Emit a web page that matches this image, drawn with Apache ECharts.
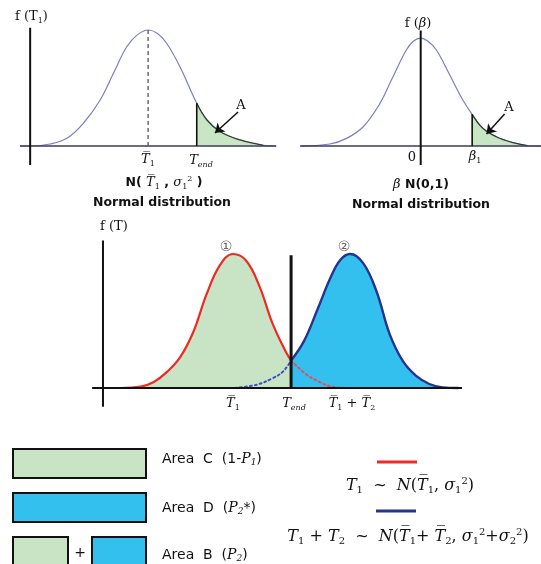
<!DOCTYPE html>
<html><head><meta charset="utf-8">
<script src="https://cdn.jsdelivr.net/npm/echarts@6/dist/echarts.min.js"></script>
<style>html,body{margin:0;padding:0;background:#fff}#c{width:541px;height:564px}</style>
</head><body><div id="c"></div>
<script>
// ---- Panel 1: f(T1), x in sigma units from the mean, y relative to peak ----
const curve1X = [-3.66,-3.37,-2.8,-2.32,-1.85,-1.37,-0.99,-0.61,-0.3,0,0.27,0.53,0.91,1.39,1.68,2.06,2.63,3.29,3.66];
const curve1Y = [0,0,0.017,0.066,0.196,0.397,0.627,0.856,0.96,1.0,0.97,0.886,0.684,0.368,0.224,0.123,0.052,0.006,0];
const tEnd1 = 1.39;
const tailEnd1 = 3.29;
const arrow1 = [[2.57,0.293],[1.91,0.112]];
const axis1X = -3.37;

// ---- Panel 2: f(beta), standard normal ----
const curve2X = [-3.61,-2.72,-2.22,-1.72,-1.22,-0.83,-0.43,-0.22,0,0.22,0.47,0.87,1.26,1.54,1.86,2.26,2.76,3.2,3.58];
const curve2Y = [0,0.019,0.071,0.179,0.395,0.642,0.889,0.97,1.0,0.97,0.889,0.657,0.426,0.294,0.164,0.086,0.031,0.003,0];
const beta1 = 1.54;
const tailEnd2 = 3.2;
const arrow2 = [[2.51,0.296],[1.97,0.111]];

// ---- Panel 3: f(T), curve 1 (T1) and curve 2 (T1+T2) ----
const redX  = [-3.4,-2.8,-2.4,-2.0,-1.6,-1.2,-0.8,-0.4,0,0.4,0.8,1.2,1.6,1.76];
const redY  = [0,0.01,0.045,0.12,0.23,0.42,0.70,0.915,1.0,0.95,0.76,0.48,0.27,0.205];
const redTailX = [1.76,2.18,2.58,3.09,3.55];
const redTailY = [0.205,0.11,0.05,0.006,0];
const blueX = [1.76,2.15,2.55,2.95,3.25,3.55,3.95,4.35,4.75,5.15,5.55,5.95,6.35,6.83];
const blueY = [0.205,0.35,0.58,0.82,0.955,1.0,0.93,0.72,0.40,0.20,0.09,0.03,0.005,0];
const blueTailX = [0.06,0.72,1.22,1.52,1.76];
const blueTailY = [0,0.025,0.075,0.124,0.205];
const tEnd3 = 1.76;
const axis3X = -3.94;

const zip = (xs, ys) => xs.map((x, i) => [x, ys[i]]);
const c1 = zip(curve1X, curve1Y);
const c2 = zip(curve2X, curve2Y);
const tail1 = c1.filter(p => p[0] >= tEnd1 && p[0] <= tailEnd1);
const tail2 = c2.filter(p => p[0] >= beta1 && p[0] <= tailEnd2);

const SERIF = "'DejaVu Serif','Liberation Serif',serif";
const SANS = "'DejaVu Sans','Noto Sans',sans-serif";
const rich = {
  it:  {fontFamily: SERIF, fontStyle: 'italic', fontSize: 13, fill: '#111'},
  rm:  {fontFamily: SERIF, fontSize: 13, fill: '#111'},
  sub: {fontFamily: SERIF, fontStyle: 'italic', fontSize: 8, padding: [8,0,0,0], fill: '#111'},
  subr:{fontFamily: SERIF, fontSize: 8, padding: [8,0,0,0], fill: '#111'},
  sup: {fontFamily: SERIF, fontSize: 8, padding: [0,0,8,0], fill: '#111'},
  b:   {fontFamily: SANS, fontWeight: 'bold', fontSize: 12.5, fill: '#111'},
  s:   {fontFamily: SANS, fontSize: 14, fill: '#111'},
  it14:{fontFamily: SERIF, fontStyle: 'italic', fontSize: 14, fill: '#111'},
  sub14:{fontFamily: SERIF, fontStyle: 'italic', fontSize: 9, padding: [8,0,0,0], fill: '#111'},
  it16:{fontFamily: SERIF, fontStyle: 'italic', fontSize: 16, fill: '#111'},
  rm16:{fontFamily: SERIF, fontSize: 16, fill: '#111'},
  sub16:{fontFamily: SERIF, fontSize: 10, padding: [9,0,0,0], fill: '#111'},
  sup16:{fontFamily: SERIF, fontSize: 10, padding: [0,0,10,0], fill: '#111'},
  circ:{fontFamily: "'DejaVu Sans','Noto Sans CJK SC'", fontSize: 14, fill: '#666'}
};
function txt(x, y, text, align) {
  return {type: 'text', x: x, y: y, silent: true,
    style: {text: text, rich: rich, align: align || 'center', verticalAlign: 'middle',
            textAlign: align || 'center', textVerticalAlign: 'middle'}};
}
function seg(pts, xi, color, width, type) {
  return {type: 'line', xAxisIndex: xi, yAxisIndex: xi, data: pts, symbol: 'none', silent: true,
    lineStyle: {color: color, width: width, type: type || 'solid'}, z: 5, animation: false};
}
function curve(pts, xi, color, width, fill, extra) {
  const s = {type: 'line', xAxisIndex: xi, yAxisIndex: xi, data: pts, symbol: 'none', silent: true,
    smooth: 0.4, lineStyle: {color: color, width: width}, animation: false, z: 3};
  if (fill) s.areaStyle = {color: fill, opacity: 1};
  return Object.assign(s, extra || {});
}
function arrow(coords, xi) {
  return {type: 'lines', coordinateSystem: 'cartesian2d', xAxisIndex: xi, yAxisIndex: xi, silent: true,
    symbol: ['none', 'arrow'], symbolSize: 9, animation: false, z: 6,
    lineStyle: {color: '#111', width: 1.5, opacity: 1}, data: [{coords: coords}]};
}

const chart = echarts.init(document.getElementById('c'), null, {renderer: 'canvas'});
const hide = {axisLine: {show: false}, axisTick: {show: false}, axisLabel: {show: false}, splitLine: {show: false}};
chart.setOption({
  animation: false,
  backgroundColor: '#fff',
  grid: [
    {left: 20, top: 24.2, width: 256.2, height: 141.5},
    {left: 300.4, top: 29.4, width: 241.2, height: 136.1},
    {left: 91.1, top: 240.6, width: 372.9, height: 167.5}
  ],
  xAxis: [
    Object.assign({type: 'value', gridIndex: 0, min: -3.66, max: 3.66}, hide),
    Object.assign({type: 'value', gridIndex: 1, min: -3.6, max: 3.6}, hide),
    Object.assign({type: 'value', gridIndex: 2, min: -4.3, max: 7.0}, hide)
  ],
  yAxis: [
    Object.assign({type: 'value', gridIndex: 0, min: -0.17, max: 1.05}, hide),
    Object.assign({type: 'value', gridIndex: 1, min: -0.18, max: 1.08}, hide),
    Object.assign({type: 'value', gridIndex: 2, min: -0.15, max: 1.1}, hide)
  ],
  series: [
    // panel 1
    curve(tail1, 0, '#2f3f2f', 1.3, '#c8e6c4'),
    curve(c1, 0, '#7d7dc6', 1.2, null, {z: 2}),
    seg([[-3.66,0],[3.66,0]], 0, '#3b3b55', 1.6),
    seg([[axis1X,-0.165],[axis1X,1.02]], 0, '#111', 2),
    seg([[0,0],[0,1.0]], 0, '#555', 1.3, [4,3]),
    seg([[tEnd1,0],[tEnd1,0.368]], 0, '#111', 1.6),
    arrow(arrow1, 0),
    // panel 2
    curve(tail2, 1, '#2f3f2f', 1.3, '#c8e6c4'),
    curve(c2, 1, '#7d7dc6', 1.2, null, {z: 2}),
    seg([[-3.6,0],[3.6,0]], 1, '#3b3b55', 1.6),
    seg([[0,-0.176],[0,1.07]], 1, '#111', 2),
    seg([[beta1,0],[beta1,0.294]], 1, '#111', 1.6),
    arrow(arrow2, 1),
    // panel 3
    curve(zip(redX, redY), 2, '#ee2a24', 2.2, '#c9e4c4'),
    curve(zip(blueX, blueY), 2, '#27348f', 2.4, '#33c0ee'),
    curve(zip(redTailX, redTailY), 2, '#e05060', 2, null, {lineStyle: {color: '#e05060', width: 2, type: [2,3], cap: 'round'}, z: 4}),
    curve(zip(blueTailX, blueTailY), 2, '#4050c0', 2, null, {lineStyle: {color: '#4050c0', width: 2, type: [2,3], cap: 'round'}, z: 4}),
    seg([[-4.27,0],[6.94,0]], 2, '#111', 2),
    seg([[axis3X,-0.14],[axis3X,1.1]], 2, '#111', 2),
    seg([[tEnd3,0],[tEnd3,0.99]], 2, '#111', 3)
  ],
  graphic: [
    // panel 1 texts
    txt(15, 17, '{rm|f (T}{subr|1}{rm|)}', 'left'),
    txt(241, 106, '{rm|A}'),
    txt(148, 160, '{it|T\u0305}{subr|1}'),
    txt(201, 161, '{it|T}{sub|end}'),
    txt(164, 183, '{b|N( }{it|T\u0305}{subr|1}{b| , }{it|σ}{subr|1}{sup|2}{b| )}'),
    txt(162, 203, '{b|Normal distribution}'),
    // panel 2 texts
    txt(418, 24, '{rm|f (}{it|β}{rm|)}'),
    txt(509, 108, '{rm|A}'),
    txt(412, 158, '{rm|0}'),
    txt(475, 157, '{it|β}{subr|1}'),
    txt(421, 185, '{it|β}{b| N(0,1)}'),
    txt(421, 205, '{b|Normal distribution}'),
    // panel 3 texts
    txt(100, 227, '{rm|f (T)}', 'left'),
    txt(226, 247, '{circ|①}'),
    txt(344, 247, '{circ|②}'),
    txt(233, 404, '{it|T\u0305}{subr|1}'),
    txt(294, 404, '{it|T}{sub|end}'),
    txt(352, 404, '{it|T\u0305}{subr|1}{rm| + }{it|T\u0305}{subr|2}'),
    // legend boxes
    {type: 'rect', shape: {x: 13, y: 449, width: 133, height: 29}, style: {fill: '#c9e4c4', stroke: '#111', lineWidth: 2}},
    {type: 'rect', shape: {x: 13, y: 493, width: 133, height: 29}, style: {fill: '#33c0ee', stroke: '#111', lineWidth: 2}},
    {type: 'rect', shape: {x: 13, y: 537, width: 55, height: 40}, style: {fill: '#c9e4c4', stroke: '#111', lineWidth: 2}},
    {type: 'rect', shape: {x: 92, y: 537, width: 54, height: 40}, style: {fill: '#33c0ee', stroke: '#111', lineWidth: 2}},
    txt(80, 553, '{s|+}'),
    txt(162, 459, '{s|Area  C  (1-}{it14|P}{sub14|1}{s|)}', 'left'),
    txt(162, 508, '{s|Area  D  (}{it14|P}{sub14|2}{s|*)}', 'left'),
    txt(162, 555, '{s|Area  B  (}{it14|P}{sub14|2}{s|)}', 'left'),
    {type: 'line', shape: {x1: 377, y1: 462, x2: 417, y2: 462}, style: {stroke: '#ee2a24', lineWidth: 3}},
    {type: 'line', shape: {x1: 376, y1: 511, x2: 416, y2: 511}, style: {stroke: '#27348f', lineWidth: 3}},
    txt(410, 486, '{it16|T}{sub16|1}{rm16|  ~  }{it16|N}{rm16|(}{it16|T\u0305}{sub16|1}{rm16|, }{it16|σ}{sub16|1}{sup16|2}{rm16|)}'),
    txt(408, 537, '{it16|T}{sub16|1}{rm16| + }{it16|T}{sub16|2}{rm16|  ~  }{it16|N}{rm16|(}{it16|T\u0305}{sub16|1}{rm16|+ }{it16|T\u0305}{sub16|2}{rm16|, }{it16|σ}{sub16|1}{sup16|2}{rm16|+}{it16|σ}{sub16|2}{sup16|2}{rm16|)}')
  ]
});
</script>
</body></html>
